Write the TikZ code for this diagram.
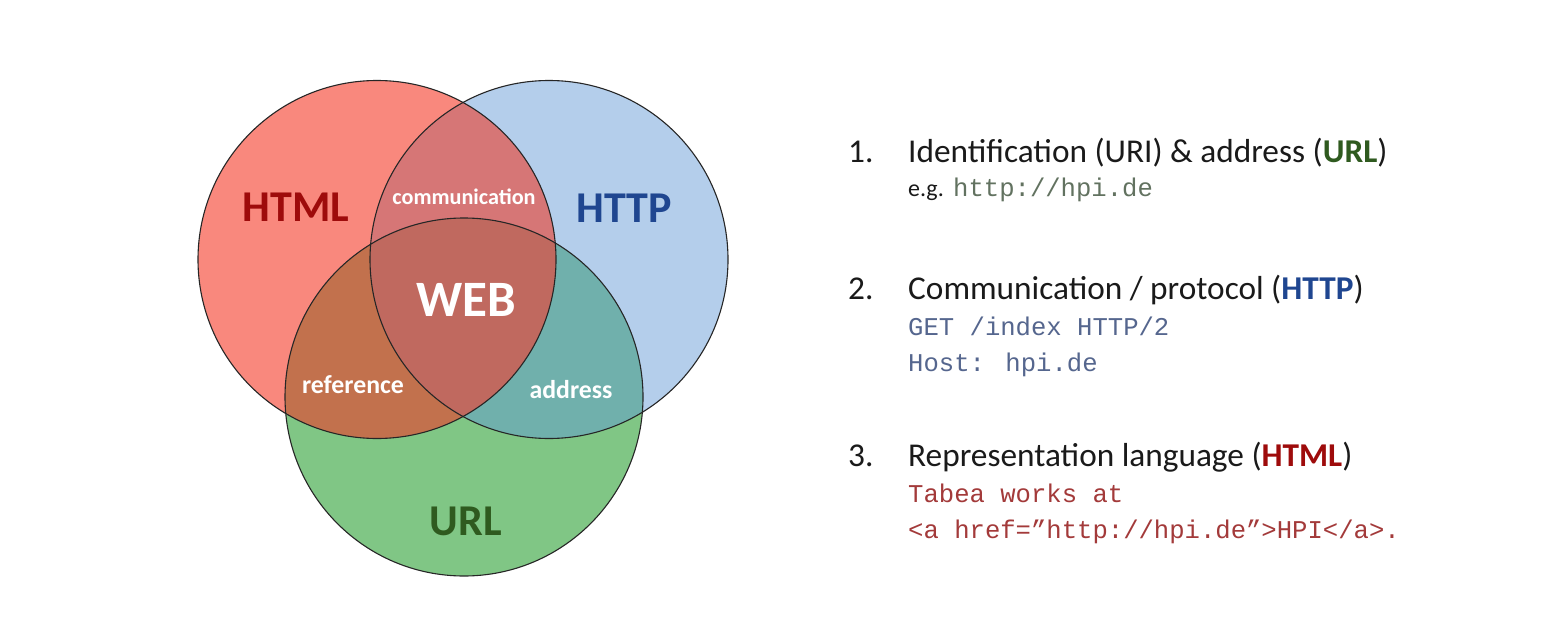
\documentclass[tikz,border=0pt]{standalone}
\usepackage{fontspec}
\setmainfont{Carlito}
\newfontfamily\codefont{Liberation Mono}

% region colours of the Venn diagram
\definecolor{fillhtml}{HTML}{F9887D}
\definecolor{fillhttp}{HTML}{B4CEEB}
\definecolor{fillurl}{HTML}{80C685}
\definecolor{fillhtmlhttp}{HTML}{D67676}
\definecolor{fillhtmlurl}{HTML}{C2714D}
\definecolor{fillhttpurl}{HTML}{70B0AC}
\definecolor{fillweb}{HTML}{C0695F}
\definecolor{ringline}{HTML}{262626}
% label colours
\definecolor{htmlred}{HTML}{9E0B0B}
\definecolor{httpblue}{HTML}{1F4690}
\definecolor{urlgreen}{HTML}{2F5A1F}
\definecolor{bodytext}{HTML}{1A1A1A}
\definecolor{codegreen}{HTML}{627260}
\definecolor{codeblue}{HTML}{55668E}
\definecolor{codered}{HTML}{A33A3A}

\tikzset{
  ring/.style={draw=ringline, line width=1.1pt},
  setlabel/.style={font=\fontsize{44}{44}\selectfont\bfseries, inner sep=0pt},
  weblabel/.style={font=\fontsize{51}{51}\selectfont\bfseries, text=white, inner sep=0pt},
  pairlabel/.style={font=\fontsize{25.8}{25.8}\selectfont\bfseries, text=white, inner sep=0pt},
  commlabel/.style={font=\fontsize{22.2}{22.2}\selectfont\bfseries, text=white, inner sep=0pt},
  heading/.style={font=\fontsize{33.3}{33.3}\selectfont, text=bodytext, inner sep=0pt, anchor=base west},
  codeline/.style={font=\fontsize{25.6}{25.6}\selectfont\codefont, inner sep=0pt, anchor=base west},
  egtext/.style={font=\fontsize{24}{24}\selectfont, text=bodytext, inner sep=0pt, anchor=base west},
}

\begin{document}
\begin{tikzpicture}[x=1pt,y=-1pt]
\useasboundingbox[fill=white] (0,0) rectangle (1542,634);

\coordinate (chtml) at (377,259.5);
\coordinate (chttp) at (549,259.5);
\coordinate (curl)  at (464,397);
\def\rad{179pt}

% single sets
\fill[fillhttp] (chttp) circle (\rad);
\fill[fillhtml] (chtml) circle (\rad);
\fill[fillurl]  (curl)  circle (\rad);
% pairwise overlaps
\begin{scope}
  \clip (chtml) circle (\rad);
  \fill[fillhtmlhttp] (chttp) circle (\rad);
\end{scope}
\begin{scope}
  \clip (chtml) circle (\rad);
  \fill[fillhtmlurl] (curl) circle (\rad);
\end{scope}
\begin{scope}
  \clip (chttp) circle (\rad);
  \fill[fillhttpurl] (curl) circle (\rad);
\end{scope}
% triple overlap
\begin{scope}
  \clip (chtml) circle (\rad);
  \clip (chttp) circle (\rad);
  \fill[fillweb] (curl) circle (\rad);
\end{scope}
% outlines
\draw[ring] (chtml) circle (\rad);
\draw[ring] (chttp) circle (\rad);
\draw[ring] (curl)  circle (\rad);

% set and overlap labels
\node[setlabel, text=htmlred]  (lhtml) at (296,207) {HTML};
\node[setlabel, text=httpblue] (lhttp) at (624,208) {HTTP};
\node[setlabel, text=urlgreen] (lurl)  at (466,521) {URL};
\node[weblabel] (lweb) at (466,300) {WEB};
\node[commlabel] (lcomm) at (464,197) {communication};
\node[pairlabel] (lref)  at (353,385) {reference};
\node[pairlabel] (laddr) at (571,390) {address};

% numbered list
\node[heading] (n1) at (848,162) {1.};
\node[heading] (h1) at (908,162) {Identification (URI) \& address ({\bfseries\color{urlgreen}URL})};
\node[egtext]  (eg) at (908,196) {e.g.};
\node[codeline, text=codegreen] (c1) at (953,196) {http://hpi.de};

\node[heading] (n2) at (848,299) {2.};
\node[heading] (h2) at (908,299) {Communication / protocol ({\bfseries\color{httpblue}HTTP})};
\node[codeline, text=codeblue] (c2a) at (908,335) {GET /index HTTP/2};
\node[codeline, text=codeblue] (c2b) at (908,371) {Host: hpi.de};

\node[heading] (n3) at (848,466) {3.};
\node[heading] (h3) at (908,466) {Representation language ({\bfseries\color{htmlred}HTML})};
\node[codeline, text=codered] (c3a) at (908,502) {Tabea works at};
\node[codeline, text=codered] (c3b) at (908,538) {<a href=”http://hpi.de”>HPI</a>.};
\end{tikzpicture}
\end{document}
